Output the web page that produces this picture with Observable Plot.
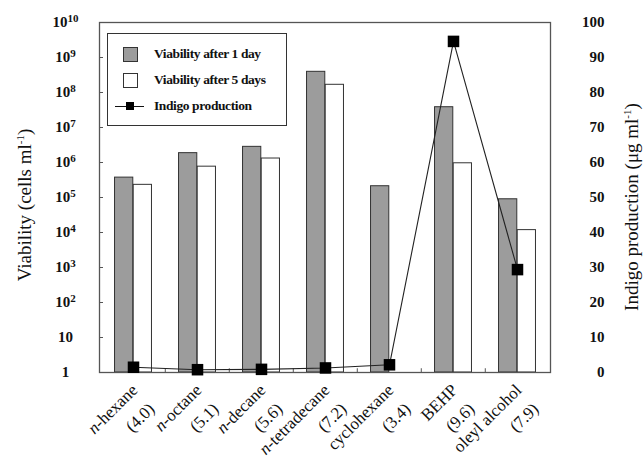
<!DOCTYPE html>
<html><head><meta charset="utf-8">
<script src="https://cdn.jsdelivr.net/npm/d3@7"></script>
<script src="https://cdn.jsdelivr.net/npm/@observablehq/plot@0.6"></script>
<style>
body{margin:0;background:#fff}
#chart{position:relative;width:643px;height:459px;font-family:'Liberation Serif',serif;color:#111}
.legend{position:absolute;left:107px;top:33px;width:178px;height:91px;border:1.5px solid #333;background:#fff;font-weight:bold;font-size:13.5px;letter-spacing:-0.4px}
.legend .row{position:absolute;left:0;height:16px;line-height:16px;white-space:nowrap}
.legend .sw{position:absolute;left:15px;top:1px;width:13px;height:13px;border:1px solid #333}
.legend .lbl{position:absolute;left:46px;top:0}
.legend .ln{position:absolute;left:7px;top:7.5px;width:29px;height:1.3px;background:#111}
.legend .sq{position:absolute;left:18px;top:4px;width:8px;height:8px;background:#000}
.ytitle{position:absolute;font-size:19px;white-space:nowrap;transform-origin:center center}
.ytitle sup{font-size:11px;vertical-align:7px;line-height:0}
</style>
</head><body><div id="chart"></div>
<script>
const categories = ["n-hexane","n-octane","n-decane","n-tetradecane","cyclohexane","BEHP","oleyl alcohol"];
const logP = ["4.0","5.1","5.6","7.2","3.4","9.6","7.9"];
const viability1Day = [3.7e5,1.85e6,2.8e6,3.9e8,2.1e5,3.8e7,8.9e4];
const viability5Days = [2.3e5,7.6e5,1.3e6,1.66e8,null,9.5e5,1.17e4];
const indigo = [1.5,0.8,0.9,1.3,2.2,94.6,29.4];
const leftTicks = [1,1e1,1e2,1e3,1e4,1e5,1e6,1e7,1e8,1e9,1e10];
const rightTicks = [0,10,20,30,40,50,60,70,80,90,100];

const day1 = categories.map((c,i)=>({cat:c, v:viability1Day[i]}));
const day5 = categories.map((c,i)=>({cat:c, v:viability5Days[i]})).filter(d=>d.v!=null);
const ind = categories.map((c,i)=>({cat:c, v:indigo[i]}));
const toLog = v => Math.pow(10, v/10); // map 0–100 onto the 1–1e10 log axis

const W=643,H=459, mL=99, mR=93, mT=22, mB=87;
const bw = (W-mL-mR)/categories.length;

const svg = Plot.plot({
  width:W, height:H, marginLeft:mL, marginRight:mR, marginTop:mT, marginBottom:mB,
  style:{fontFamily:"'Liberation Serif', serif", fontSize:"15px", color:"#111", background:"#fff"},
  x:{type:"band", domain:categories, padding:0, label:null},
  y:{type:"log", domain:[1,1e10], label:null},
  marks:[
    Plot.barY(day1,{x:"cat", y1:d=>1, y2:"v", fill:"#9c9c9c", stroke:"#333", strokeWidth:1, insetLeft:bw*0.21, insetRight:bw*0.5}),
    Plot.barY(day5,{x:"cat", y1:d=>1, y2:"v", fill:"#fff", stroke:"#333", strokeWidth:1, insetLeft:bw*0.5, insetRight:bw*0.21}),
    Plot.frame({stroke:"#555", strokeWidth:1.3}),
    Plot.axisY({anchor:"left", ticks:leftTicks, tickSize:4, dx:4, text:null, stroke:"#555", label:null}),
    Plot.axisY({anchor:"left", ticks:leftTicks, tickSize:0, tickPadding:34, textAnchor:"middle", fontWeight:"bold", fontSize:15,
      tickFormat:d=>{const k=Math.round(Math.log10(d)); return k===0?"1":k===1?"10":"10^"+k;}, label:null}),
    Plot.axisY({anchor:"right", ticks:rightTicks.map(toLog), tickSize:0, tickPadding:54, textAnchor:"end", fontWeight:"bold", fontSize:15,
      tickFormat:d=>String(Math.round(Math.log10(d)*10)), label:null}),
    Plot.ruleX(categories.slice(1),{x:d=>d, y1:d=>1, y2:d=>1.28, dx:-bw/2, stroke:"#555"}),
    Plot.axisX({ticks:categories, tickSize:0, tickPadding:10, dx:-3.5, tickRotate:-45, fontSize:17, lineAnchor:"top", label:null}),
    Plot.axisX({ticks:categories, tickSize:0, tickPadding:29, dx:13.5, tickRotate:-45, fontSize:17, lineAnchor:"top",
      tickFormat:d=>"("+logP[categories.indexOf(d)]+")", label:null}),
    Plot.line(ind,{x:"cat", y:d=>toLog(d.v), stroke:"#222", strokeWidth:1.1}),
    Plot.dot(ind,{x:"cat", y:d=>toLog(d.v), symbol:"square", r:6.5, fill:"#000", stroke:"none"})
  ]
});

// superscripts on the log-axis labels
d3.select(svg).selectAll("text").each(function(){
  const t = d3.select(this);
  if (this.childElementCount===0 && this.textContent.includes("^")) {
    const [b,e] = this.textContent.split("^");
    t.text(b);
    t.append("tspan").attr("dy","-0.45em").attr("font-size","11px").text(e);
  }
});
// italic n- on category labels
d3.select(svg).selectAll("text").each(function(){
  const s = this.textContent;
  if (this.childElementCount===0 && s.startsWith("n-")) {
    const t = d3.select(this); t.text("");
    t.append("tspan").attr("font-style","italic").text("n");
    t.append("tspan").text(s.slice(1));
  }
});

const chart = document.getElementById("chart");
chart.appendChild(svg);

const legend = document.createElement("div");
legend.className="legend";
legend.innerHTML = `
 <div class="row" style="top:12px;width:178px"><div class="sw" style="background:#9c9c9c"></div><span class="lbl">Viability after 1 day</span></div>
 <div class="row" style="top:38px;width:178px"><div class="sw" style="background:#fff"></div><span class="lbl">Viability after 5 days</span></div>
 <div class="row" style="top:64px;width:178px"><div class="ln"></div><div class="sq"></div><span class="lbl">Indigo production</span></div>`;
chart.appendChild(legend);

const lt = document.createElement("div");
lt.className="ytitle";
lt.innerHTML = "Viability (cells ml<sup>-1</sup>)";
chart.appendChild(lt);
const rt = document.createElement("div");
rt.className="ytitle";
rt.innerHTML = "Indigo production (μg ml<sup>-1</sup>)";
chart.appendChild(rt);
function place(el, cx, cy){
  const w = el.offsetWidth, h = el.offsetHeight;
  el.style.left = (cx - w/2)+"px"; el.style.top = (cy - h/2)+"px";
  el.style.transform = "rotate(-90deg)";
}
place(lt, 25, 205);
place(rt, 632, 207);
</script>
</body></html>
